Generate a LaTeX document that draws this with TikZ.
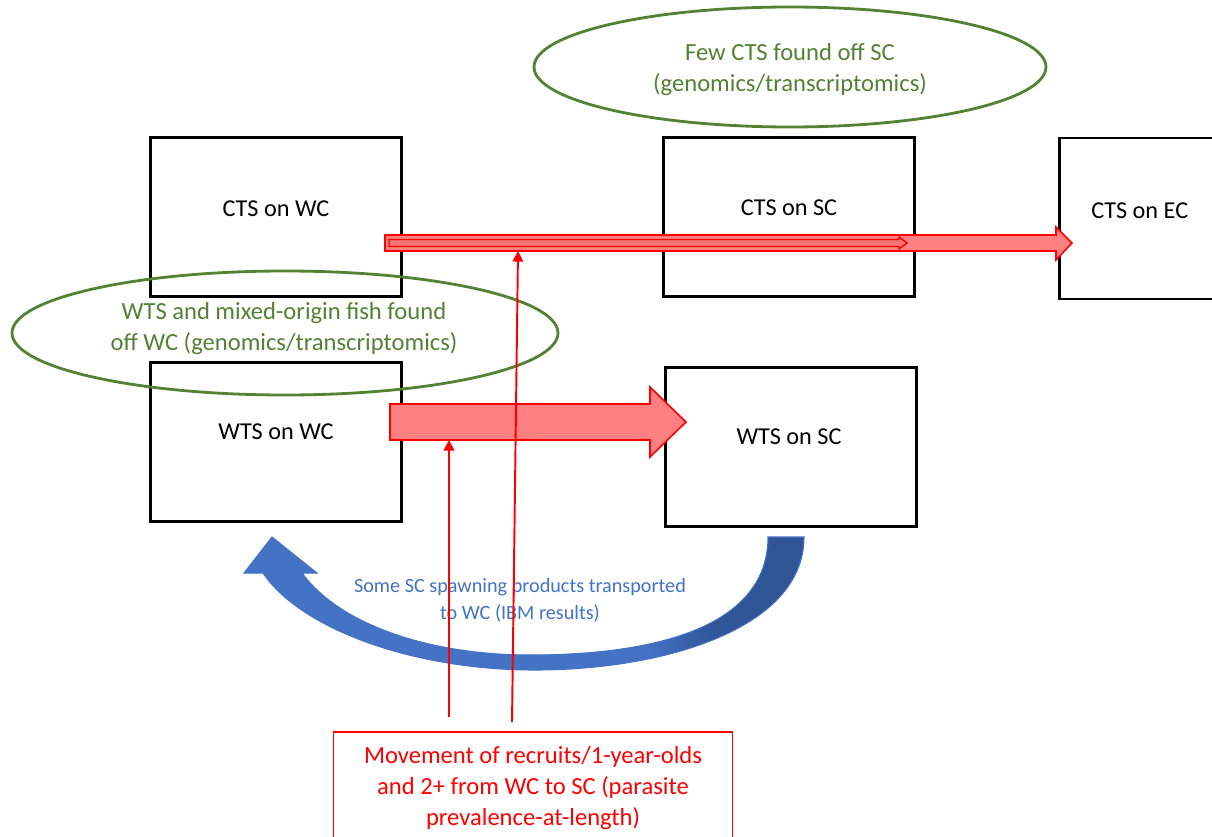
\documentclass[tikz,border=0pt]{standalone}
\usepackage{fontspec}
\setmainfont{Carlito}
\usetikzlibrary{arrows.meta}
\definecolor{grn}{HTML}{548235}
\definecolor{grntxt}{HTML}{538135}
\definecolor{bluA}{HTML}{4472C4}
\definecolor{bluB}{HTML}{2F5597}
\definecolor{pinkfill}{HTML}{FF8080}
\pgfdeclarehorizontalshading{blueshade}{100bp}{color(0bp)=(bluA); color(61bp)=(bluA); color(67bp)=(bluB); color(100bp)=(bluB)}
\tikzset{
  blackbox/.style={draw=black, line width=1.7pt, minimum width=5.04cm, minimum height=3.2cm, inner sep=0pt},
  boxtxt/.style={font=\fontsize{13.8}{16}\selectfont},
  greenell/.style={draw=grn, line width=1.6pt},
  greentxt/.style={text=grntxt, align=center, font=\fontsize{14}{17.6}\selectfont},
  redline/.style={draw=red, line width=1.1pt, -{Triangle[length=6pt,width=6pt]}},
  fatarrow/.style={draw=red, line width=0.9pt, fill=pinkfill},
}
\begin{document}
\begin{tikzpicture}[x=0.02cm,y=-0.02cm]
\clip (0,0) rectangle (1212,837);
\fill[white] (0,0) rectangle (1212,837);

% boxes
\node[blackbox] (ctswc) at (276,217) {};
\node[boxtxt] at (276,209) {CTS on WC};
\node[blackbox] (ctssc) at (789,217) {};
\node[boxtxt] at (789,208) {CTS on SC};
\draw[line width=1.7pt] (1260,138) -- (1059,138) -- (1059,299) -- (1260,299);
\node[boxtxt, anchor=west, inner sep=0pt] (ctsec) at (1091,211) {CTS on EC};
\node[blackbox] (wtswc) at (276,442) {};
\node[boxtxt] at (276,432) {WTS on WC};
\node[blackbox] (wtssc) at (791,447) {};
\node[boxtxt] at (789,437) {WTS on SC};

% ellipses
\draw[greenell] (790,67) ellipse [x radius=256, y radius=60];
\node[greentxt] (few) at (790,70) {Few CTS found off SC\\(genomics/transcriptomics)};
\draw[greenell] (285,333) ellipse [x radius=273, y radius=62];
\node[greentxt] (wtsmix) at (284,329) {WTS and mixed-origin fish found\\off WC (genomics/transcriptomics)};

% top composite arrow
\draw[fatarrow] (385,235) -- (1056,235) -- (1056,227) -- (1072,243) -- (1056,260) -- (1056,251) -- (385,251) -- cycle;
\draw[draw=red, line width=0.8pt, fill=red!55] (389,239.5) -- (899,239.5) -- (899,237) -- (907,243) -- (899,249) -- (899,246.5) -- (389,246.5) -- cycle;

% middle fat arrow
\draw[fatarrow] (390,404) -- (650,404) -- (650,387) -- (686,422) -- (650,457) -- (650,440) -- (390,440) -- cycle;

% blue curved arrow
\path[shading=blueshade, draw=bluA, line width=0.6pt]
  (768,537) -- (804,537)
  .. controls (804,630) and (660,671) .. (530,670)
  .. controls (410,669) and (300,628) .. (263,573)
  -- (244,573) -- (272,537) -- (317,573) -- (302,573)
  .. controls (340,625) and (430,655) .. (530,655)
  .. controls (660,655) and (768,625) .. (768,537) -- cycle;
\node[text=bluA, align=center, font=\fontsize{11.5}{15.4}\selectfont] (ibm) at (520,600) {Some SC spawning products transported\\to WC (IBM results)};

% bottom red box
\node[draw=red, line width=1pt, minimum width=7.98cm, minimum height=2.4cm] (move) at (533,792) {};
\node[text=red, align=center, font=\fontsize{14}{17.4}\selectfont] at (533,788) {Movement of recruits/1-year-olds\\and 2+ from WC to SC (parasite\\prevalence-at-length)};

% red connectors
\coordinate (s1) at (449,717);
\coordinate (e1) at (449,440);
\coordinate (s2) at (512,722);
\coordinate (e2) at (518,251);
\draw[redline] (s1) -- (e1);
\draw[redline] (s2) -- (e2);
\end{tikzpicture}
\end{document}
